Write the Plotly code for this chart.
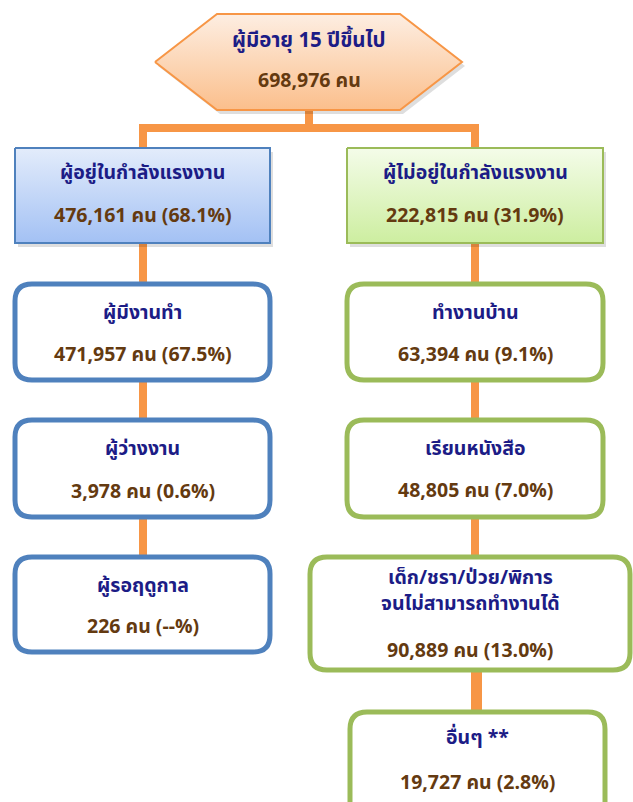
import plotly.graph_objects as go

# ---------------- data ----------------
top_label = "ผู้มีอายุ 15 ปีขึ้นไป"
top_value = 698976

level1_labels = ["ผู้อยู่ในกำลังแรงงาน", "ผู้ไม่อยู่ในกำลังแรงงาน"]
level1_values = [476161, 222815]
level1_pct = [68.1, 31.9]

left_labels = ["ผู้มีงานทำ", "ผู้ว่างงาน", "ผู้รอฤดูกาล"]
left_values = [471957, 3978, 226]
left_pct = [67.5, 0.6, None]

right_labels = [["ทำงานบ้าน"], ["เรียนหนังสือ"], ["เด็ก/ชรา/ป่วย/พิการ", "จนไม่สามารถทำงานได้"], ["อื่นๆ **"]]
right_values = [63394, 48805, 90889, 19727]
right_pct = [9.1, 7.0, 13.0, 2.8]

# ---------------- style ----------------
W, H = 633, 802
FONT = "Tahoma, 'Noto Sans Thai', 'Noto Sans Thai UI', Loma, Garuda, 'DejaVu Sans', sans-serif"
NAVY = "#1c1c86"
BROWN = "#643a10"
ORANGE = "#f79646"
BLUE = "#4f81bd"
GREEN = "#9bbb59"
LS = 19.5  # label font size


def fmt(v, p):
    ps = "--" if p is None else f"{p:.1f}"
    return f"{v:,} คน ({ps}%)"


fig = go.Figure()
shapes = []
annotations = []


def add_text(x, y, txt, color, size=LS):
    annotations.append(dict(x=x, y=y, xref="x", yref="y", text=f"<b>{txt}</b>", showarrow=False,
                            font=dict(family=FONT, size=size, color=color), align="center",
                            xanchor="center", yanchor="middle"))


def line(x0, y0, x1, y1):
    shapes.append(dict(type="line", x0=x0, y0=y0, x1=x1, y1=y1, xref="x", yref="y",
                       line=dict(color=ORANGE, width=8), layer="below"))


def rr_path(x0, y0, x1, y1, r):
    return (f"M {x0 + r},{y0} L {x1 - r},{y0} Q {x1},{y0} {x1},{y0 + r} "
            f"L {x1},{y1 - r} Q {x1},{y1} {x1 - r},{y1} L {x0 + r},{y1} "
            f"Q {x0},{y1} {x0},{y1 - r} L {x0},{y0 + r} Q {x0},{y0} {x0 + r},{y0} Z")


def grad_poly(xs, ys, c_top, c_bot, border, shadow=True):
    y_top, y_bot = min(ys), max(ys)
    if shadow:
        fig.add_trace(go.Scatter(x=[v + 3 for v in xs], y=[v + 4 for v in ys], mode="lines",
                                 fill="toself", fillcolor="rgba(0,0,0,0.13)",
                                 line=dict(width=0), hoverinfo="skip", showlegend=False))
    fig.add_trace(go.Scatter(x=xs, y=ys, mode="lines", fill="toself",
                             fillgradient=dict(type="vertical", start=y_top, stop=y_bot,
                                               colorscale=[[0, c_top], [1, c_bot]]),
                             line=dict(color=border, width=2), hoverinfo="skip", showlegend=False))


# connectors (below everything)
xc_top, xl, xr = 309, 143, 475
line(xc_top, 105, xc_top, 128)
line(xl - 4, 128, xr + 4, 128)
line(xl, 128, xl, 600)
line(xr, 128, xr, 712)

# hexagon
hx = [155, 217, 400, 462, 400, 217, 155]
hy = [62, 14, 14, 62, 110, 110, 62]
grad_poly(hx, hy, "#fdeee2", "#fbbf8c", ORANGE)
add_text(309, 40, top_label, NAVY, 20.5)
add_text(309, 81, f"{top_value:,} คน", BROWN, 19.5)

# level-1 boxes
lvl1 = [((15, 148, 270, 243), "#e3ecfb", "#a3c1f4", BLUE),
        ((347, 148, 603, 243), "#f4fce9", "#cdeea0", GREEN)]
for (x0, y0, x1, y1), ct, cb, bc in lvl1:
    grad_poly([x0, x1, x1, x0, x0], [y0, y0, y1, y1, y0], ct, cb, bc)
for i, ((x0, y0, x1, y1), _, _, _) in enumerate(lvl1):
    add_text((x0 + x1) / 2, 173, level1_labels[i], NAVY)
    add_text((x0 + x1) / 2, 216, fmt(level1_values[i], level1_pct[i]), BROWN)

# left rounded boxes
left_boxes = [(15, 284, 270, 380), (15, 420, 270, 517), (15, 557, 270, 652)]
for i, (x0, y0, x1, y1) in enumerate(left_boxes):
    shapes.append(dict(type="path", path=rr_path(x0, y0, x1, y1, 17), xref="x", yref="y",
                       fillcolor="white", line=dict(color=BLUE, width=5), layer="above"))
    add_text((x0 + x1) / 2, y0 + 29, left_labels[i], NAVY)
    add_text((x0 + x1) / 2, y1 - 25, fmt(left_values[i], left_pct[i]), BROWN)

# connector between last two right boxes
line(478, 672, 478, 712)

# right rounded boxes
right_boxes = [(347, 284, 603, 380), (347, 420, 603, 517), (310, 557, 630, 670), (350, 712, 605, 835)]
right_label_y = [313, 449, 578, 738]
right_value_y = [355, 491, 651, 783]
for i, (x0, y0, x1, y1) in enumerate(right_boxes):
    shapes.append(dict(type="path", path=rr_path(x0, y0, x1, y1, 17), xref="x", yref="y",
                       fillcolor="white", line=dict(color=GREEN, width=5), layer="above"))
    cx = (x0 + x1) / 2
    for k, txt in enumerate(right_labels[i]):
        add_text(cx, right_label_y[i] + 26 * k, txt, NAVY)
    add_text(cx, right_value_y[i], fmt(right_values[i], right_pct[i]), BROWN)

fig.update_layout(
    width=W, height=H, autosize=False,
    margin=dict(l=0, r=0, t=0, b=0),
    paper_bgcolor="white", plot_bgcolor="white",
    xaxis=dict(range=[0, W], visible=False, fixedrange=True),
    yaxis=dict(range=[H, 0], visible=False, fixedrange=True),
    shapes=shapes, annotations=annotations, showlegend=False,
)

fig.write_html("out.html", config={"displayModeBar": False},
               post_script="document.body.style.margin='0';document.body.style.overflow='hidden';")
